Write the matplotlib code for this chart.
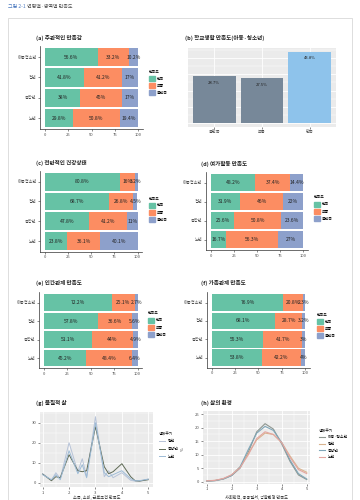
import matplotlib.pyplot as plt
from matplotlib.patches import Patch, Rectangle
from matplotlib.lines import Line2D
from matplotlib.ticker import MultipleLocator

plt.rcParams['font.family'] = ['Noto Sans CJK KR', 'DejaVu Sans']

W, H = 360, 500

# stacked bar panels
groups = ['아동청소년', '청년', '중장년', '노년']
levels = ['만족', '보통', '불만족']
subjective = [[56.6, 33.2, 10.2], [41.8, 41.2, 17], [38, 45, 17], [29.8, 50.8, 19.4]]
health = [[80.8, 16.0, 3.2], [68.7, 26.8, 4.5], [47.8, 41.2, 11], [23.8, 36.1, 40.1]]
leisure = [[48.2, 37.4, 14.4], [31.9, 46, 22], [25.6, 50.8, 23.6], [16.7, 56.3, 27]]
relation = [[72.2, 25.1, 2.7], [57.8, 36.6, 5.6], [51.1, 44, 4.9], [45.2, 48.4, 6.4]]
family = [[76.9, 20.8, 2.3], [68.1, 28.7, 3.2], [55.3, 41.7, 3], [53.8, 42.2, 4]]

# school life (children / youth)
school_levels = ['불만족', '보통', '만족']
school_values = [28.7, 27.5, 43.8]

# material life, distribution of mean score
mat_x = [1, 4/3, 3/2, 5/3, 2, 7/3, 5/2, 8/3, 3, 10/3, 7/2, 11/3, 4, 13/3, 9/2, 14/3, 5]
mat_groups = ['청년', '중장년', '노년']
mat_young = [4.5, 1.2, 5.0, 2.0, 20.0, 5.5, 12.0, 3.0, 33.0, 3.0, 6.0, 2.5, 5.0, 1.2, 0.8, 0.8, 1.8]
mat_middle = [4.3, 1.0, 3.0, 2.5, 14.0, 6.0, 5.5, 6.0, 28.0, 8.0, 4.5, 5.5, 9.5, 3.0, 1.0, 0.8, 1.5]
mat_old = [4.0, 1.5, 4.0, 1.5, 16.0, 4.5, 9.0, 2.5, 30.0, 5.0, 3.0, 4.0, 6.0, 2.0, 1.0, 1.0, 1.8]

# living environment
env_x = [1, 4/3, 5/3, 2, 7/3, 8/3, 3, 10/3, 11/3, 4, 13/3, 14/3, 5]
env_groups = ['아동·청소년', '청년', '중장년', '노년']
env_child = [0.2, 0.4, 1.0, 2.3, 5.0, 11.0, 18.5, 21.5, 19.5, 14.0, 7.5, 2.5, 0.8]
env_young = [0.3, 0.5, 1.1, 2.5, 5.5, 10.5, 15.5, 18.0, 17.5, 14.5, 9.5, 5.0, 3.5]
env_middle = [0.2, 0.4, 1.0, 2.3, 5.5, 12.0, 18.0, 20.5, 19.0, 14.5, 8.0, 3.0, 1.0]
env_old = [0.3, 0.5, 1.2, 2.6, 5.2, 10.0, 16.0, 18.5, 17.5, 14.5, 9.0, 4.5, 3.0]

level_colors = ['#66C2A5', '#FC8D62', '#8DA0CB']
mat_colors = ['#B7C3D8', '#5E6A55', '#9DBBD6']
env_colors = ['#8E9690', '#D9B48F', '#7FA6B8', '#E3A5A0']

fig = plt.figure(figsize=(W / 100, H / 100), dpi=100)


def add_ax(left, top, right, bottom):
    return fig.add_axes([left / W, 1 - bottom / H, (right - left) / W, (bottom - top) / H])


def ftext(x, y, s, **kw):
    fig.text(x / W, 1 - y / H, s, **kw)


def stacked(x0, x100, btop, bbot, title, title_xy, data, leg_xy):
    ppx = (x100 - x0) / 100
    ppy = (bbot - btop) / 3.9
    ax = add_ax(x0 - 5 * ppx, btop - 0.1 * ppy, x100 + 5 * ppx, bbot + 0.1 * ppy)
    ypos = list(range(len(groups)))
    for k, lev in enumerate(levels):
        vals = [row[k] for row in data]
        lefts = [sum(row[:k]) for row in data]
        ax.barh(ypos, vals, left=lefts, height=0.9, color=level_colors[k])
        for y, l, v in zip(ypos, lefts, vals):
            ax.text(l + v / 2, y, f'{v:g}%', ha='center', va='center',
                    fontsize=3.6, color='#222222')
    ax.set_xlim(-5, 105)
    ax.set_ylim(3.55, -0.55)
    ax.set_yticks(ypos)
    ax.set_yticklabels(groups)
    ax.set_xticks([0, 25, 50, 75, 100])
    for s in ['top', 'right']:
        ax.spines[s].set_visible(False)
    for s in ['left', 'bottom']:
        ax.spines[s].set_color('#333333')
        ax.spines[s].set_linewidth(0.5)
    ax.tick_params(length=1.5, width=0.4, color='#333333', labelsize=3,
                   labelcolor='#4D4D4D', pad=1)
    ftext(*title_xy, title, fontsize=4, weight='bold', va='center', color='#222222')
    handles = [Patch(color=c, label=l) for c, l in zip(level_colors, levels)]
    ax.legend(handles=handles, title='만족도', loc='upper left',
              bbox_to_anchor=(leg_xy[0] / W, 1 - leg_xy[1] / H),
              bbox_transform=fig.transFigure, frameon=False, fontsize=2.8,
              title_fontsize=2.8, handlelength=1.5, handleheight=1.5,
              labelspacing=0.6, handletextpad=0.6, borderpad=0, borderaxespad=0,
              alignment='left')
    return ax


def gg_panel(ax):
    ax.set_facecolor('#EBEBEB')
    for s in ax.spines.values():
        s.set_visible(False)
    ax.grid(True, which='major', color='white', lw=0.6)
    ax.grid(True, which='minor', color='white', lw=0.3)
    ax.set_axisbelow(True)
    ax.tick_params(which='major', length=1.5, width=0.4, color='#333333', labelsize=3,
                   labelcolor='#4D4D4D', pad=1)
    ax.tick_params(which='minor', length=0)


# page title and frame
ftext(8, 6, '그림 2-1', fontsize=3.6, color='#4F7CC0', va='center')
ftext(27, 6, '연령별·영역별 만족도', fontsize=3.6, color='#555555', va='center')
fig.patches.append(Rectangle((8 / W, -0.02), 344 / W, 1.02 - 18 / H,
                             transform=fig.transFigure, fill=False,
                             edgecolor='#D8D8D8', lw=0.6))

stacked(45, 138, 48, 127.3, '(a) 주관적인 만족감', (36, 38.3), subjective, (149, 70))
stacked(45, 137.5, 172.7, 250, '(c) 전반적인 건강상태', (36, 163.3), health, (149, 196.5))
stacked(44, 137.5, 294.3, 366.5, '(e) 인간관계 만족도', (36, 283.3), relation, (148, 311.5))
stacked(210.7, 303.3, 174.3, 248.3, '(d) 여가활동 만족도', (200.7, 164), leisure, (314, 195.5))
stacked(211.5, 305, 294.3, 366, '(f) 가족관계 만족도', (200.7, 283.3), family, (317, 313))

# (b) school life
axb = add_ax(188, 48, 336, 127)
gg_panel(axb)
bx = list(range(len(school_levels)))
axb.bar(bx, school_values, width=0.9, color=['#778899', '#778899', '#8EC3EB'])
for x, v in zip(bx, school_values):
    axb.text(x, v - 4, f'{v}%', ha='center', va='center', fontsize=3, color='#222222')
axb.set_xlim(-0.55, 2.55)
axb.set_ylim(-2.19, 45.99)
axb.set_xticks(bx)
axb.set_xticklabels(school_levels)
axb.yaxis.set_major_locator(MultipleLocator(10))
axb.yaxis.set_minor_locator(MultipleLocator(5))
axb.tick_params(axis='y', labelleft=False, length=0)
ftext(185, 37.5, '(b) 학교생활 만족도(아동·청소년)', fontsize=4, weight='bold', va='center',
      color='#222222')

# (g) material life
axg = add_ax(40, 411.7, 153.3, 487.3)
gg_panel(axg)
for ys, c, lab in zip([mat_young, mat_middle, mat_old], mat_colors, mat_groups):
    axg.plot(mat_x, ys, color=c, lw=0.7, label=lab)
axg.set_xlim(0.9, 5.19)
axg.set_ylim(-2.3, 35.5)
axg.xaxis.set_major_locator(MultipleLocator(1))
axg.xaxis.set_minor_locator(MultipleLocator(0.5))
axg.yaxis.set_major_locator(MultipleLocator(10))
axg.yaxis.set_minor_locator(MultipleLocator(5))
ftext(36, 403.3, '(g) 물질적 삶', fontsize=4, weight='bold', va='center', color='#222222')
ftext(96.7, 496.5, '소득, 소비, 근로조건 만족도', fontsize=3, ha='center', va='center',
      color='#333333')
axg.legend(title='생애주기', loc='upper left', bbox_to_anchor=(159 / W, 1 - 432 / H),
           bbox_transform=fig.transFigure, frameon=False, fontsize=2.8,
           title_fontsize=2.8, handlelength=1.6, labelspacing=0.9, handletextpad=0.6,
           borderpad=0, borderaxespad=0, alignment='left')

# (h) living environment
axh = add_ax(202.7, 411, 310, 484)
gg_panel(axh)
for ys, c, lab in zip([env_child, env_young, env_middle, env_old], env_colors, env_groups):
    axh.plot(env_x, ys, color=c, lw=0.8, label=lab)
axh.set_xlim(0.84, 5.13)
axh.set_ylim(-0.85, 26.2)
axh.xaxis.set_major_locator(MultipleLocator(1))
axh.xaxis.set_minor_locator(MultipleLocator(0.5))
axh.yaxis.set_major_locator(MultipleLocator(5))
axh.yaxis.set_minor_locator(MultipleLocator(2.5))
ftext(200.7, 402.7, '(h) 삶의 환경', fontsize=4, weight='bold', va='center', color='#222222')
ftext(256.7, 496.5, '사회안전, 공공질서, 생활환경 만족도', fontsize=3, ha='center',
      va='center', color='#333333')
ftext(183, 449, '%', fontsize=3, rotation=90, ha='center', va='center', color='#333333')
axh.legend(title='생애주기', loc='upper left', bbox_to_anchor=(319 / W, 1 - 428.5 / H),
           bbox_transform=fig.transFigure, frameon=False, fontsize=2.8,
           title_fontsize=2.8, handlelength=1.6, labelspacing=0.7, handletextpad=0.6,
           borderpad=0, borderaxespad=0, alignment='left')

fig.savefig('out.png', dpi=100)
